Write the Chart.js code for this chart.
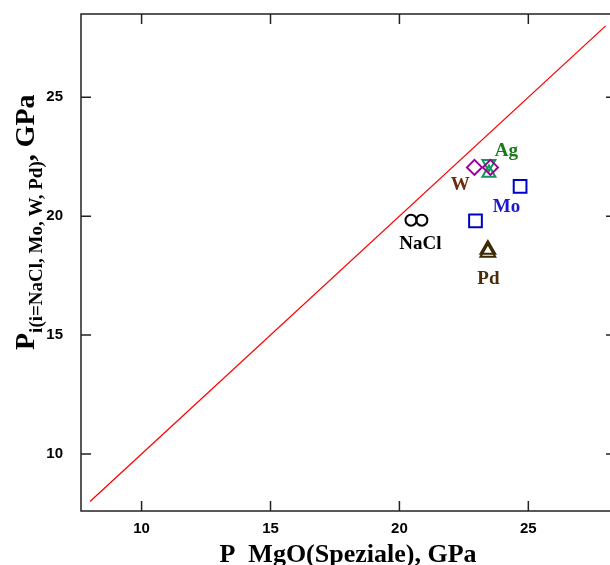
<!DOCTYPE html>
<html>
<head>
<meta charset="utf-8">
<script src="https://cdn.jsdelivr.net/npm/chart.js@4/dist/chart.umd.min.js"></script>
<style>
  body { margin: 0; background: #fff; overflow: hidden; }
  #caixa { width: 610px; height: 565px; overflow: hidden; }
</style>
</head>
<body>
<div id="caixa"><canvas id="grafico" width="630" height="565"></canvas></div>
<script>
// valores (GPa)
const ticksEixo = [10, 15, 20, 25];
const linhaX = [8, 28];
const linhaY = [8, 28];

const naclX = [20.45, 20.87];
const naclY = [19.83, 19.83];
const moX = [22.95, 24.68];
const moY = [19.8, 21.25];
const wX = [22.91, 23.53];
const wY = [22.05, 22.05];
const agCimaX = [23.47];
const agCimaY = [21.81];
const agBaixoX = [23.47];
const agBaixoY = [22.2];
const pdX = [23.43, 23.43];
const pdY = [18.6, 18.47];

const rotulos = ['NaCl', 'Mo', 'W', 'Ag', 'Pd'];
const rotuloX = [20.81, 24.15, 22.36, 24.15, 23.45];
const rotuloY = [18.82, 20.38, 21.3, 22.73, 17.35];
const rotuloCor = ['#000000', '#1a1acc', '#6b2e0e', '#1a7a1a', '#4a2c0a'];

function pontos(xs, ys) {
    return xs.map((x, i) => ({ x: x, y: ys[i] }));
}

function serie(nome, xs, ys, cor, estilo, raio, rot) {
    return {
        type: 'scatter',
        label: nome,
        data: pontos(xs, ys),
        borderColor: cor,
        backgroundColor: 'rgba(0,0,0,0)',
        borderWidth: 2,
        pointStyle: estilo,
        pointRadius: raio,
        rotation: rot || 0
    };
}

const moldura = {
    id: 'moldura',
    afterDraw(chart) {
        const ctx = chart.ctx;
        const a = chart.chartArea;
        const sx = chart.scales.x;
        const sy = chart.scales.y;
        ctx.save();
        ctx.strokeStyle = '#222';
        ctx.lineWidth = 1.5;
        ctx.strokeRect(a.left, a.top, a.right - a.left, a.bottom - a.top);
        ctx.beginPath();
        ticksEixo.forEach(v => {
            const px = sx.getPixelForValue(v);
            ctx.moveTo(px, a.bottom); ctx.lineTo(px, a.bottom - 10);
            ctx.moveTo(px, a.top); ctx.lineTo(px, a.top + 10);
            const py = sy.getPixelForValue(v);
            ctx.moveTo(a.left, py); ctx.lineTo(a.left + 10, py);
            ctx.moveTo(a.right, py); ctx.lineTo(a.right - 10, py);
        });
        ctx.stroke();

        // rotulos dos materiais
        ctx.font = 'bold 19px "Liberation Serif"';
        ctx.textAlign = 'center';
        ctx.textBaseline = 'middle';
        rotulos.forEach((t, i) => {
            ctx.fillStyle = rotuloCor[i];
            ctx.fillText(t, sx.getPixelForValue(rotuloX[i]), sy.getPixelForValue(rotuloY[i]));
        });

        // titulo eixo x
        ctx.fillStyle = '#000';
        ctx.font = 'bold 26px "Liberation Serif"';
        ctx.textBaseline = 'alphabetic';
        ctx.fillText('P  MgO(Speziale), GPa', 348, 562);

        // titulo eixo y com subscrito
        ctx.translate(34, 350);
        ctx.rotate(-Math.PI / 2);
        ctx.textAlign = 'left';
        ctx.font = 'bold 28px "Liberation Serif"';
        ctx.fillText('P', 0, 0);
        let w = ctx.measureText('P').width;
        ctx.font = 'bold 19px "Liberation Serif"';
        ctx.fillText('i(i=NaCl, Mo, W, Pd)', w, 8);
        w += ctx.measureText('i(i=NaCl, Mo, W, Pd)').width;
        ctx.font = 'bold 28px "Liberation Serif"';
        ctx.fillText(', GPa', w, 0);
        ctx.restore();
    }
};

function semPadding(s) {
    s.paddingTop = 0; s.paddingBottom = 0;
    s.paddingLeft = 0; s.paddingRight = 0;
}

const meuGrafico = document.getElementById('grafico');
const GRFX = new Chart(meuGrafico, {
    data: {
        datasets: [
            {
                type: 'line',
                data: pontos(linhaX, linhaY),
                borderColor: '#ff0000',
                borderWidth: 1.3,
                pointRadius: 0,
                fill: false
            },
            serie('NaCl', naclX, naclY, '#000000', 'circle', 5.5),
            serie('Mo', moX, moY, '#0000cc', 'rect', 9),
            serie('W', wX, wY, '#990099', 'rectRot', 7.5),
            serie('Ag', agCimaX, agCimaY, '#109a55', 'triangle', 7.5),
            serie('Ag2', agBaixoX, agBaixoY, '#109a55', 'triangle', 7.5, 180),
            serie('Pd', pdX, pdY, '#3d2800', 'triangle', 8.5)
        ]
    },
    options: {
        responsive: false,
        animation: false,
        layout: { padding: { top: 14, right: 14, left: 0, bottom: 0 } },
        plugins: { legend: { display: false }, tooltip: { enabled: false } },
        scales: {
            x: {
                type: 'linear',
                min: 7.65,
                max: 28.4,
                afterBuildTicks: s => { s.ticks = ticksEixo.map(v => ({ value: v })); },
                afterFit: s => { s.height = 54; semPadding(s); },
                grid: { display: false, drawTicks: false },
                border: { display: false },
                ticks: { padding: 9, color: '#000', font: { family: 'Liberation Sans', weight: 'bold', size: 15 } }
            },
            y: {
                type: 'linear',
                min: 7.6,
                max: 28.5,
                afterBuildTicks: s => { s.ticks = ticksEixo.map(v => ({ value: v })); },
                afterFit: s => { s.width = 81; semPadding(s); },
                grid: { display: false, drawTicks: false },
                border: { display: false },
                ticks: { padding: 18, color: '#000', font: { family: 'Liberation Sans', weight: 'bold', size: 15 } }
            }
        }
    },
    plugins: [moldura]
});
</script>
</body>
</html>
